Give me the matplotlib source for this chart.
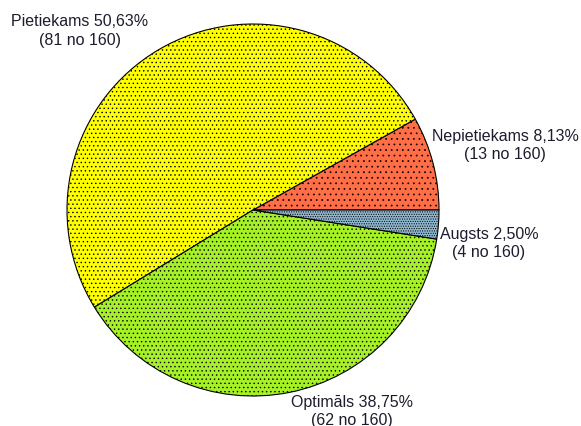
import matplotlib
matplotlib.use("Agg")
import matplotlib.pyplot as plt

categories = ["Nepietiekams", "Pietiekams", "Optimāls", "Augsts"]
counts = [13, 81, 62, 4]
percents = ["8,13%", "50,63%", "38,75%", "2,50%"]
total = 160

colors = ["#FF6E46", "#FFFF00", "#A6F028", "#8FB8D0"]
hatches = ["...", "....", "....", "......."]

# label anchor points in pixel space (x, y from top)
label_pos = [(505, 145), (80, 31), (352, 412), (489, 244)]

plt.rcParams["font.family"] = ["Liberation Sans", "DejaVu Sans"]
plt.rcParams["hatch.linewidth"] = 0.5

W, H = 581, 427
fig = plt.figure(figsize=(W / 100, H / 100), dpi=100)
ax = fig.add_axes([0, 0, 1, 1])

cx, cy, r = 253, 211, 186
wedges, _ = ax.pie(
    counts,
    colors=colors,
    startangle=0,
    counterclock=True,
    center=(cx, H - cy),
    radius=r,
    wedgeprops=dict(edgecolor="black", linewidth=0.8),
)
for w, h in zip(wedges, hatches):
    w.set_hatch(h)

for cat, n, p, (x, y) in zip(categories, counts, percents, label_pos):
    ax.text(x, H - y, f"{cat} {p}\n({n} no {total})", ha="center", va="center",
            fontsize=11.5, color="#1c1c2e", linespacing=1.25)

ax.set_xlim(0, W)
ax.set_ylim(0, H)
ax.set_aspect("equal")
ax.axis("off")

fig.savefig("out.png", dpi=100)
